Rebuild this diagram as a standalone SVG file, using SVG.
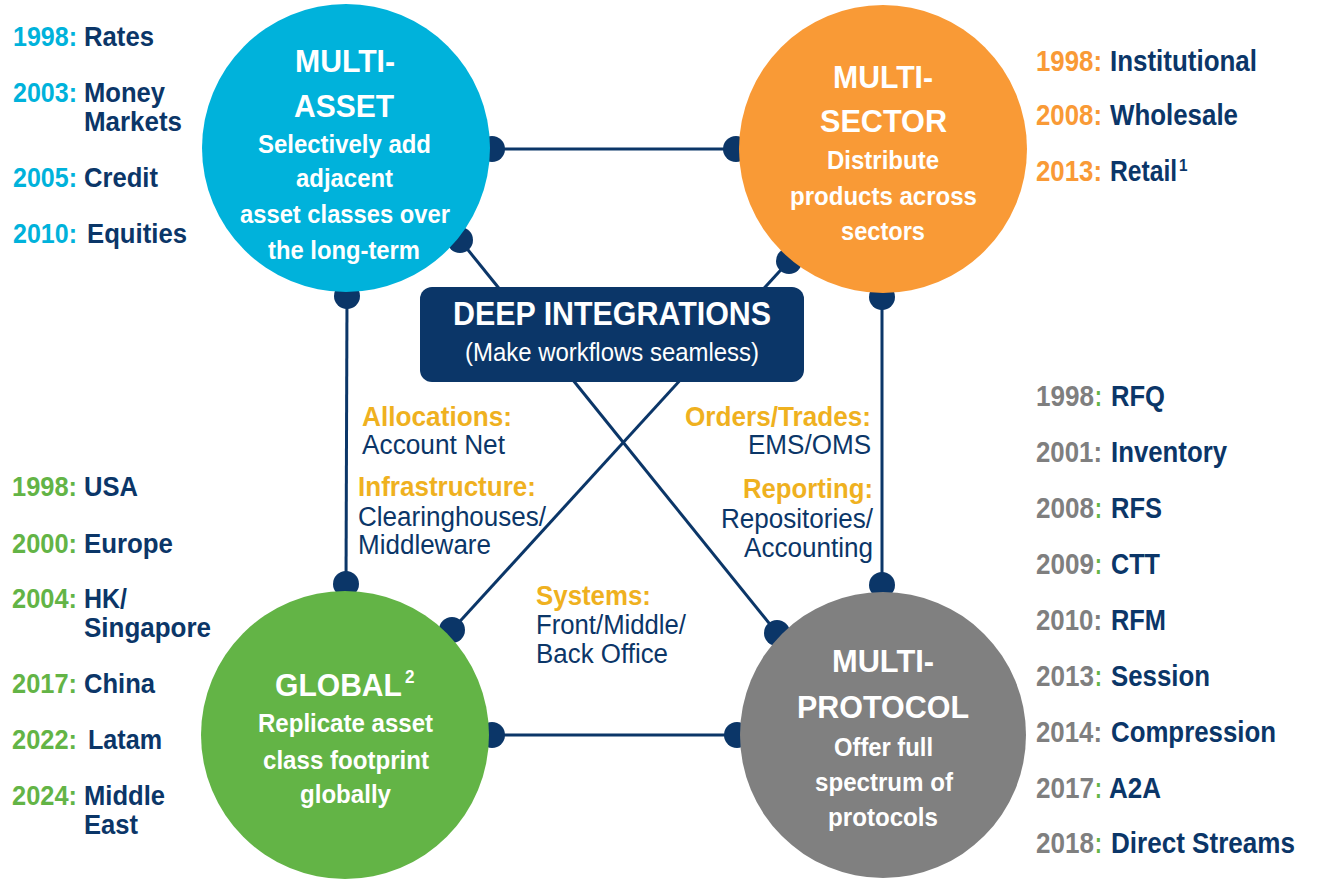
<svg xmlns="http://www.w3.org/2000/svg" width="1326" height="880" viewBox="0 0 1326 880">
<style>
text{font-family:"Liberation Sans",Arial,sans-serif;}
.t{font-weight:bold;font-size:32px;fill:#fff;}
.s{font-weight:bold;font-size:26px;fill:#fff;}
.lb{font-weight:bold;font-size:29px;}
.lb2{font-weight:bold;font-size:28px;}
.nv{fill:#0b3668;}
.cy{fill:#00b2db;}
.gr{fill:#63b446;}
.or{fill:#f99a36;}
.gy{fill:#7f7f7f;}
.cl{font-size:27px;}
.gd{fill:#efb11f;font-weight:bold;}
.conn{stroke:#0b3668;stroke-width:3;fill:none;}
</style>
<defs>
<marker id="dot" markerUnits="userSpaceOnUse" markerWidth="30" markerHeight="30" refX="15" refY="15" viewBox="0 0 30 30">
<circle cx="15" cy="15" r="13" fill="#0b3668"/>
</marker>
</defs>
<rect width="1326" height="880" fill="#fff"/>
<g id="connectors">
<line class="conn" x1="492" y1="149" x2="736" y2="149" marker-start="url(#dot)" marker-end="url(#dot)"/>
<line class="conn" x1="347" y1="296" x2="346" y2="584" marker-start="url(#dot)" marker-end="url(#dot)"/>
<line class="conn" x1="882" y1="297" x2="882" y2="585" marker-start="url(#dot)" marker-end="url(#dot)"/>
<line class="conn" x1="492" y1="735" x2="737" y2="735" marker-start="url(#dot)" marker-end="url(#dot)"/>
<line class="conn" x1="460" y1="240" x2="777" y2="633" marker-start="url(#dot)" marker-end="url(#dot)"/>
<line class="conn" x1="789" y1="261" x2="452" y2="630" marker-start="url(#dot)" marker-end="url(#dot)"/>
</g>
<g id="multi-asset">
<circle cx="346" cy="148" r="144" fill="#00b2db"/>
<text class="t" x="295" y="72" textLength="100" lengthAdjust="spacingAndGlyphs">MULTI-</text>
<text class="t" x="294" y="117" textLength="100" lengthAdjust="spacingAndGlyphs">ASSET</text>
<text class="s" x="258" y="153" textLength="173" lengthAdjust="spacingAndGlyphs">Selectively add</text>
<text class="s" x="296" y="187" textLength="97" lengthAdjust="spacingAndGlyphs">adjacent</text>
<text class="s" x="240" y="223" textLength="210" lengthAdjust="spacingAndGlyphs">asset classes over</text>
<text class="s" x="268" y="259" textLength="152" lengthAdjust="spacingAndGlyphs">the long-term</text>
</g>
<g id="multi-sector">
<circle cx="883" cy="149" r="144" fill="#f99a36"/>
<text class="t" x="833" y="88" textLength="100" lengthAdjust="spacingAndGlyphs">MULTI-</text>
<text class="t" x="820" y="132" textLength="127" lengthAdjust="spacingAndGlyphs">SECTOR</text>
<text class="s" x="827" y="169" textLength="112" lengthAdjust="spacingAndGlyphs">Distribute</text>
<text class="s" x="790" y="205" textLength="187" lengthAdjust="spacingAndGlyphs">products across</text>
<text class="s" x="841" y="240" textLength="84" lengthAdjust="spacingAndGlyphs">sectors</text>
</g>
<g id="global">
<circle cx="345" cy="735" r="144" fill="#63b446"/>
<text class="t" transform="translate(275 696) scale(0.94 1)">GLOBAL</text>
<text class="t" transform="translate(405 683) scale(0.9 1)" style="font-size:19px">2</text>
<text class="s" x="258" y="732" textLength="175" lengthAdjust="spacingAndGlyphs">Replicate asset</text>
<text class="s" x="263" y="769" textLength="166" lengthAdjust="spacingAndGlyphs">class footprint</text>
<text class="s" x="300" y="803" textLength="91" lengthAdjust="spacingAndGlyphs">globally</text>
</g>
<g id="multi-protocol">
<circle cx="883" cy="735" r="143" fill="#808080"/>
<text class="t" x="832" y="672" textLength="102" lengthAdjust="spacingAndGlyphs">MULTI-</text>
<text class="t" x="797" y="718" textLength="172" lengthAdjust="spacingAndGlyphs">PROTOCOL</text>
<text class="s" x="834" y="756" textLength="99" lengthAdjust="spacingAndGlyphs">Offer full</text>
<text class="s" x="815" y="791" textLength="138" lengthAdjust="spacingAndGlyphs">spectrum of</text>
<text class="s" x="828" y="826" textLength="110" lengthAdjust="spacingAndGlyphs">protocols</text>
</g>
<g id="deep-integrations">
<rect x="420" y="287" width="384" height="95" rx="12" fill="#0b3668"/>
<text x="453" y="325" style="font-size:33px;font-weight:bold;fill:#fff" textLength="318" lengthAdjust="spacingAndGlyphs">DEEP INTEGRATIONS</text>
<text x="465" y="361" style="font-size:25px;fill:#fff" textLength="294" lengthAdjust="spacingAndGlyphs">(Make workflows seamless)</text>
</g>
<g id="integration-labels" class="cl">
<text class="gd" x="362" y="426" textLength="150" lengthAdjust="spacingAndGlyphs">Allocations:</text>
<text class="nv" x="362" y="454" textLength="143" lengthAdjust="spacingAndGlyphs">Account Net</text>
<text class="gd" x="358" y="496" textLength="178" lengthAdjust="spacingAndGlyphs">Infrastructure:</text>
<text class="nv" x="358" y="526" textLength="188" lengthAdjust="spacingAndGlyphs">Clearinghouses/</text>
<text class="nv" x="358" y="554" textLength="133" lengthAdjust="spacingAndGlyphs">Middleware</text>
<text class="gd" x="685" y="426" textLength="186" lengthAdjust="spacingAndGlyphs">Orders/Trades:</text>
<text class="nv" x="748" y="454" textLength="123" lengthAdjust="spacingAndGlyphs">EMS/OMS</text>
<text class="gd" x="743" y="498" textLength="130" lengthAdjust="spacingAndGlyphs">Reporting:</text>
<text class="nv" x="721" y="528" textLength="152" lengthAdjust="spacingAndGlyphs">Repositories/</text>
<text class="nv" x="744" y="557" textLength="129" lengthAdjust="spacingAndGlyphs">Accounting</text>
<text class="gd" x="536" y="605" textLength="115" lengthAdjust="spacingAndGlyphs">Systems:</text>
<text class="nv" x="536" y="634" textLength="150" lengthAdjust="spacingAndGlyphs">Front/Middle/</text>
<text class="nv" x="536" y="663" textLength="132" lengthAdjust="spacingAndGlyphs">Back Office</text>
</g>
<g id="asset-timeline" class="lb2">
<text class="cy" x="13" y="46" textLength="64" lengthAdjust="spacingAndGlyphs">1998:</text>
<text class="nv" x="84" y="46" textLength="70" lengthAdjust="spacingAndGlyphs">Rates</text>
<text class="cy" x="13" y="102" textLength="64" lengthAdjust="spacingAndGlyphs">2003:</text>
<text class="nv" x="84" y="102" textLength="81" lengthAdjust="spacingAndGlyphs">Money</text>
<text class="nv" x="84" y="131" textLength="98" lengthAdjust="spacingAndGlyphs">Markets</text>
<text class="cy" x="13" y="187" textLength="64" lengthAdjust="spacingAndGlyphs">2005:</text>
<text class="nv" x="84" y="187" textLength="74" lengthAdjust="spacingAndGlyphs">Credit</text>
<text class="cy" x="13" y="243" textLength="64" lengthAdjust="spacingAndGlyphs">2010:</text>
<text class="nv" x="87" y="243" textLength="100" lengthAdjust="spacingAndGlyphs">Equities</text>
</g>
<g id="global-timeline" class="lb2">
<text class="gr" x="12" y="496" textLength="65" lengthAdjust="spacingAndGlyphs">1998:</text>
<text class="nv" x="84" y="496" textLength="54" lengthAdjust="spacingAndGlyphs">USA</text>
<text class="gr" x="12" y="553" textLength="65" lengthAdjust="spacingAndGlyphs">2000:</text>
<text class="nv" x="84" y="553" textLength="89" lengthAdjust="spacingAndGlyphs">Europe</text>
<text class="gr" x="12" y="608" textLength="65" lengthAdjust="spacingAndGlyphs">2004:</text>
<text class="nv" x="84" y="608" textLength="43" lengthAdjust="spacingAndGlyphs">HK/</text>
<text class="nv" x="84" y="637" textLength="127" lengthAdjust="spacingAndGlyphs">Singapore</text>
<text class="gr" x="12" y="693" textLength="65" lengthAdjust="spacingAndGlyphs">2017:</text>
<text class="nv" x="84" y="693" textLength="71" lengthAdjust="spacingAndGlyphs">China</text>
<text class="gr" x="12" y="749" textLength="65" lengthAdjust="spacingAndGlyphs">2022:</text>
<text class="nv" x="88" y="749" textLength="74" lengthAdjust="spacingAndGlyphs">Latam</text>
<text class="gr" x="12" y="805" textLength="65" lengthAdjust="spacingAndGlyphs">2024:</text>
<text class="nv" x="84" y="805" textLength="81" lengthAdjust="spacingAndGlyphs">Middle</text>
<text class="nv" x="84" y="834" textLength="54" lengthAdjust="spacingAndGlyphs">East</text>
</g>
<g id="sector-timeline" class="lb">
<text class="or" x="1036" y="71" textLength="66" lengthAdjust="spacingAndGlyphs">1998:</text>
<text class="nv" x="1110" y="71" textLength="147" lengthAdjust="spacingAndGlyphs">Institutional</text>
<text class="or" x="1036" y="125" textLength="66" lengthAdjust="spacingAndGlyphs">2008:</text>
<text class="nv" x="1110" y="125" textLength="128" lengthAdjust="spacingAndGlyphs">Wholesale</text>
<text class="or" x="1036" y="181" textLength="66" lengthAdjust="spacingAndGlyphs">2013:</text>
<text class="nv" transform="translate(1110 181) scale(0.85 1)">Retail</text>
<text class="nv" transform="translate(1179 171) scale(0.9 1)" style="font-size:17px">1</text>
</g>
<g id="protocol-timeline" class="lb">
<text class="gy" transform="translate(1036 406) scale(0.9 1)">1998</text>
<text class="gr" transform="translate(1095 406) scale(0.7 1)">:</text>
<text class="nv" x="1111" y="406" textLength="54" lengthAdjust="spacingAndGlyphs">RFQ</text>
<text class="gy" x="1036" y="462" textLength="66" lengthAdjust="spacingAndGlyphs">2001:</text>
<text class="nv" x="1111" y="462" textLength="116" lengthAdjust="spacingAndGlyphs">Inventory</text>
<text class="gy" transform="translate(1036 518) scale(0.9 1)">2008</text>
<text class="gr" transform="translate(1095 518) scale(0.7 1)">:</text>
<text class="nv" x="1111" y="518" textLength="51" lengthAdjust="spacingAndGlyphs">RFS</text>
<text class="gy" transform="translate(1036 574) scale(0.9 1)">2009</text>
<text class="gr" transform="translate(1095 574) scale(0.7 1)">:</text>
<text class="nv" x="1111" y="574" textLength="49" lengthAdjust="spacingAndGlyphs">CTT</text>
<text class="gy" x="1036" y="630" textLength="66" lengthAdjust="spacingAndGlyphs">2010:</text>
<text class="nv" x="1111" y="630" textLength="55" lengthAdjust="spacingAndGlyphs">RFM</text>
<text class="gy" transform="translate(1036 686) scale(0.9 1)">2013</text>
<text class="gr" transform="translate(1095 686) scale(0.7 1)">:</text>
<text class="nv" x="1111" y="686" textLength="99" lengthAdjust="spacingAndGlyphs">Session</text>
<text class="gy" x="1036" y="742" textLength="66" lengthAdjust="spacingAndGlyphs">2014:</text>
<text class="nv" x="1111" y="742" textLength="165" lengthAdjust="spacingAndGlyphs">Compression</text>
<text class="gy" transform="translate(1036 798) scale(0.9 1)">2017</text>
<text class="gr" transform="translate(1095 798) scale(0.7 1)">:</text>
<text class="nv" x="1109" y="798" textLength="52" lengthAdjust="spacingAndGlyphs">A2A</text>
<text class="gy" transform="translate(1036 853) scale(0.9 1)">2018</text>
<text class="gr" transform="translate(1095 853) scale(0.7 1)">:</text>
<text class="nv" x="1111" y="853" textLength="184" lengthAdjust="spacingAndGlyphs">Direct Streams</text>
</g>
</svg>
